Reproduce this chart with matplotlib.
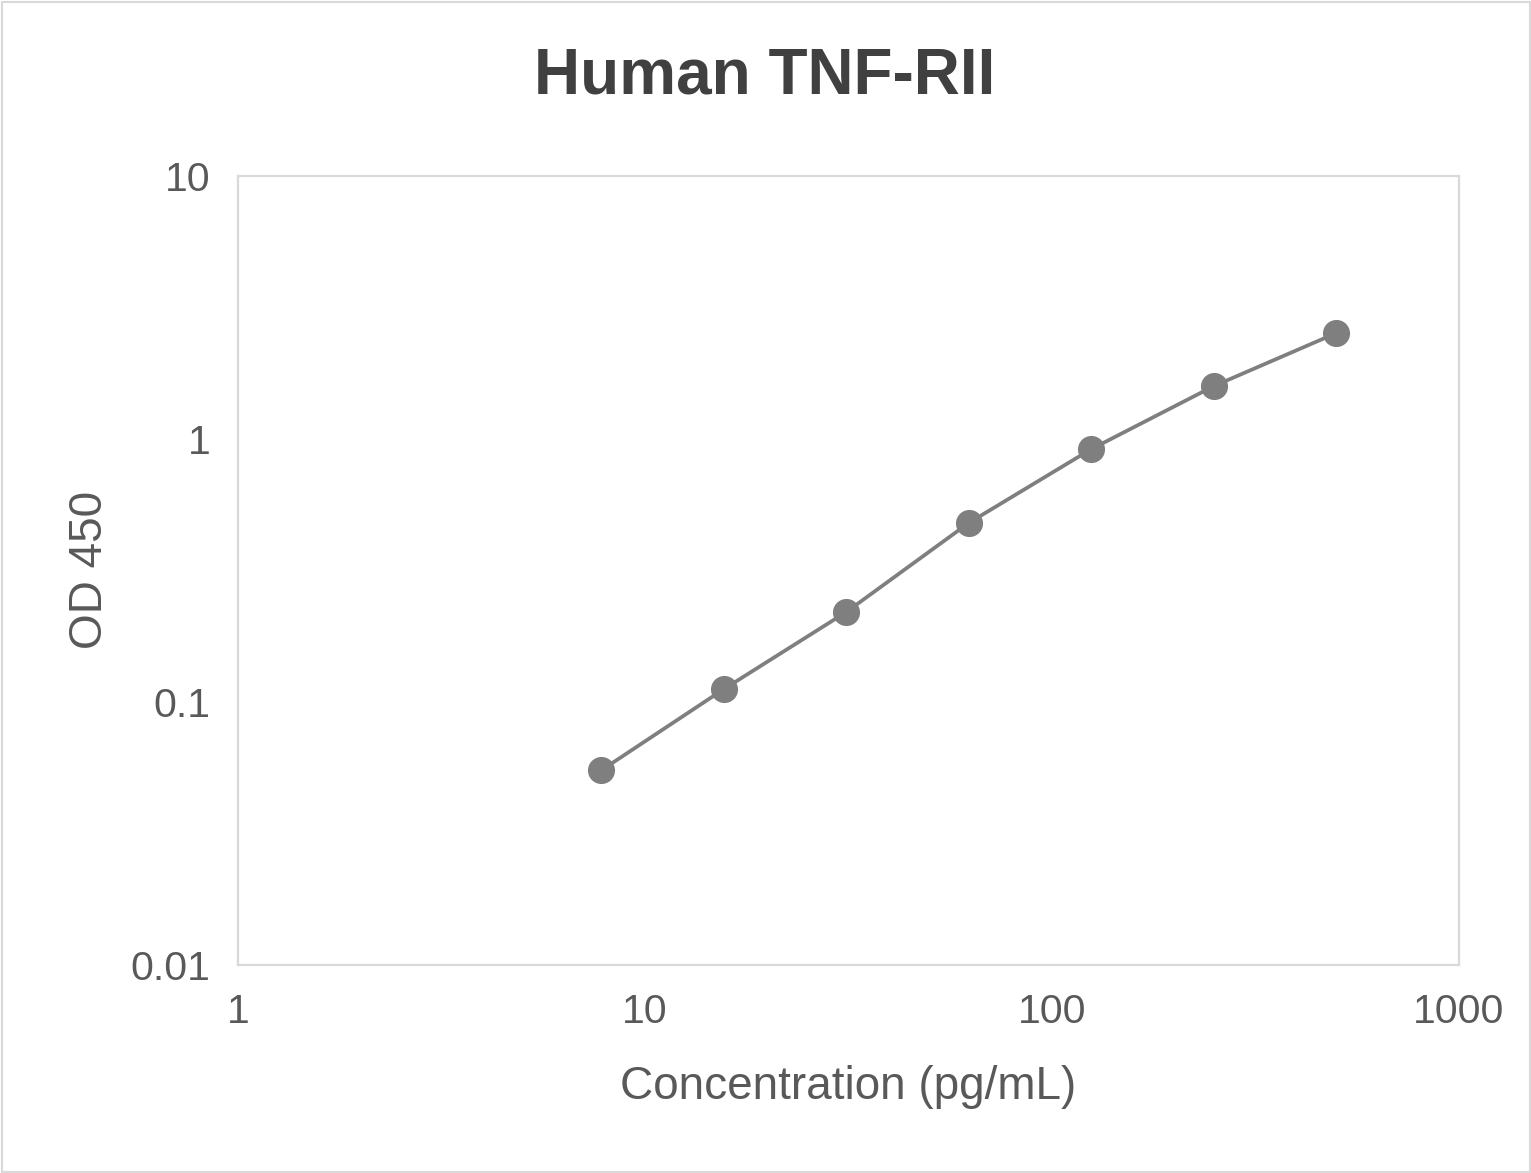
import matplotlib
matplotlib.use("Agg")
import matplotlib.pyplot as plt
from matplotlib.patches import Rectangle
from matplotlib.ticker import FixedLocator, FixedFormatter, NullLocator

plt.rcParams['font.family'] = ['Liberation Sans', 'DejaVu Sans']

concentration = [7.81, 15.63, 31.25, 62.5, 125, 250, 500]
od450 = [0.055, 0.112, 0.22, 0.48, 0.916, 1.59, 2.53]
x_ticks = [1, 10, 100, 1000]
x_tick_labels = ["1", "10", "100", "1000"]
y_ticks = [0.01, 0.1, 1, 10]
y_tick_labels = ["0.01", "0.1", "1", "10"]

W, H = 1531, 1173
fig = plt.figure(figsize=(W / 100, H / 100), dpi=100)
fig.patch.set_facecolor('white')
fig.patches.append(Rectangle((1.5 / W, 1.5 / H), 1 - 3 / W, 1 - 3 / H, transform=fig.transFigure,
                             fill=False, edgecolor='#d9d9d9', linewidth=1.5))

left, right, top, bottom = 238, 1459, 176, 965
ax = fig.add_axes([left / W, 1 - bottom / H, (right - left) / W, (bottom - top) / H])
ax.set_xscale('log')
ax.set_yscale('log')
ax.set_xlim(1, 1000)
ax.set_ylim(0.01, 10)

ax.plot(concentration, od450, color='#7f7f7f', linewidth=2.7, marker='o',
        markersize=18.5, markerfacecolor='#7f7f7f', markeredgecolor='#7f7f7f', zorder=3)

for s in ax.spines.values():
    s.set_color('#d9d9d9')
    s.set_linewidth(1.6)

ax.xaxis.set_major_locator(FixedLocator(x_ticks))
ax.xaxis.set_major_formatter(FixedFormatter(x_tick_labels))
ax.yaxis.set_major_locator(FixedLocator(y_ticks))
ax.yaxis.set_major_formatter(FixedFormatter(y_tick_labels))
ax.xaxis.set_minor_locator(NullLocator())
ax.yaxis.set_minor_locator(NullLocator())
ax.tick_params(axis='both', length=0, labelsize=29.5, labelcolor='#595959')
ax.tick_params(axis='x', pad=20)
ax.tick_params(axis='y', pad=20)

fig.text(765 / W, 1 - 77 / H, "Human TNF-RII", ha='center', va='center',
         fontsize=46, fontweight='bold', color='#404040')
fig.text(848 / W, 1 - 1087 / H, "Concentration (pg/mL)", ha='center', va='center',
         fontsize=33, color='#595959')
fig.text(90 / W, 1 - 570 / H, "OD 450", ha='center', va='center', rotation=90,
         fontsize=33, color='#595959')

fig.savefig("out.png", dpi=100, facecolor='white')
